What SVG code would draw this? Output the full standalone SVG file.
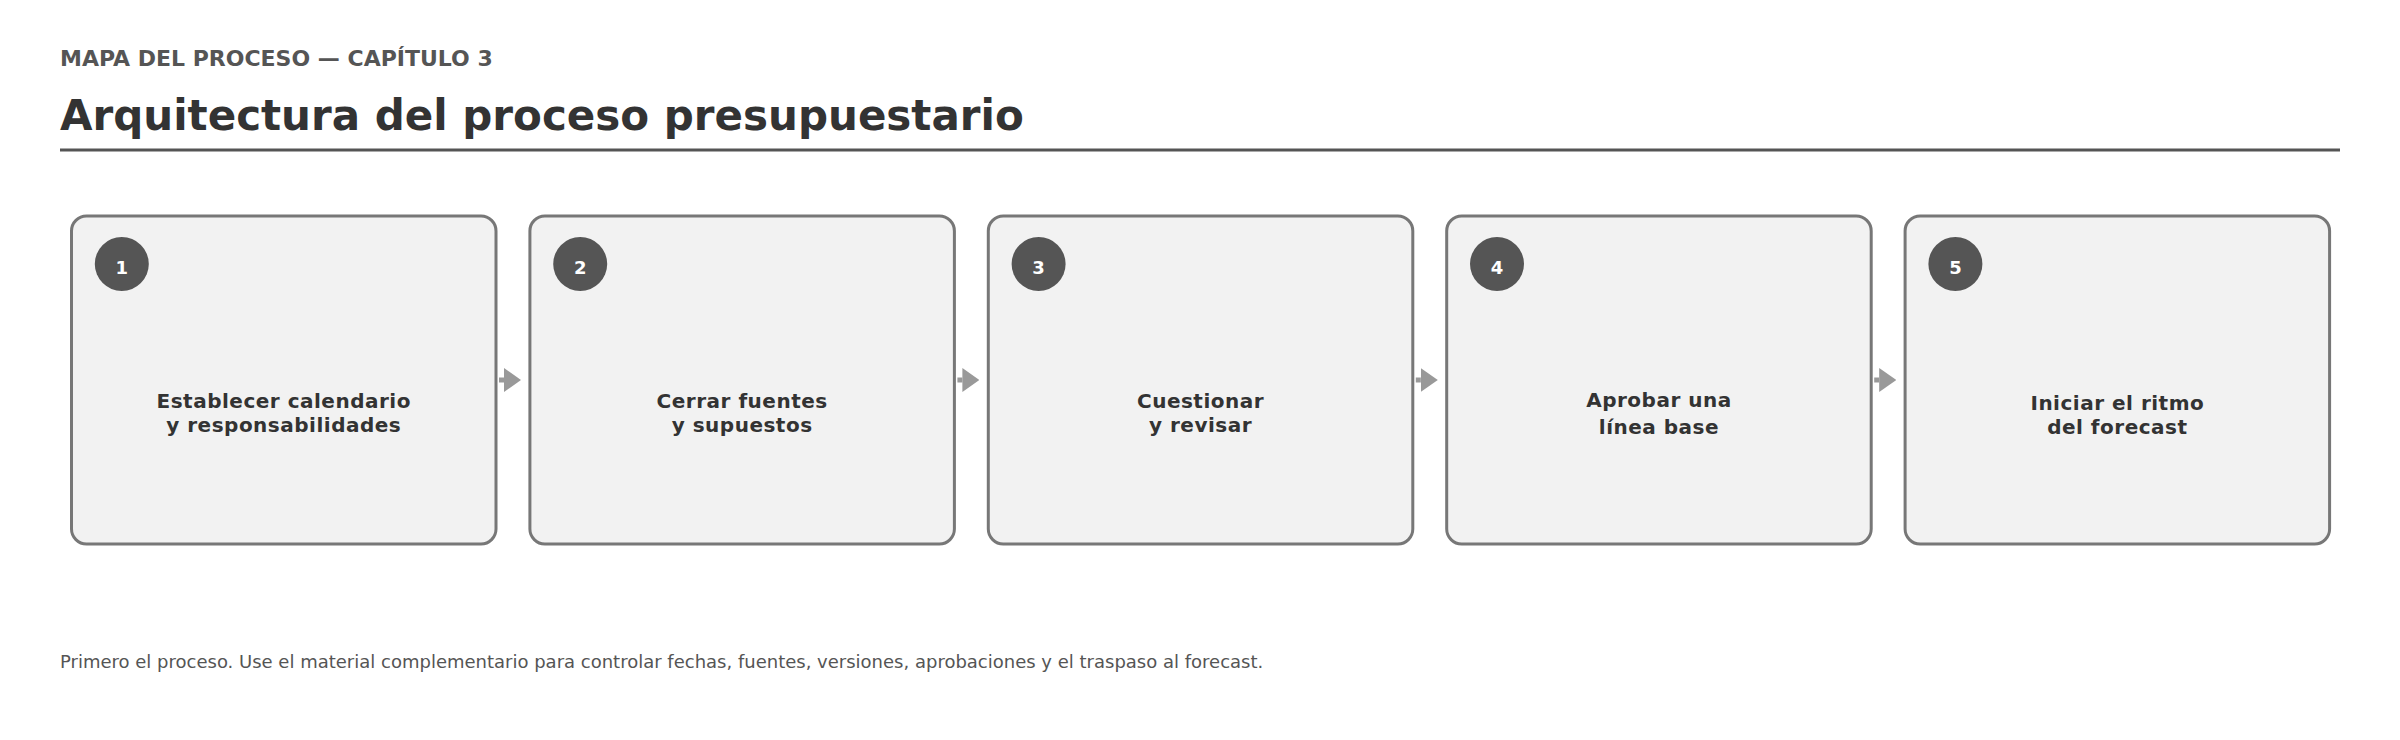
<svg xmlns="http://www.w3.org/2000/svg" width="2400" height="740" viewBox="0 0 2400 740">
  <style>
    .kicker { font-family: "DejaVu Sans", "Liberation Sans", sans-serif; font-size: 22px; font-weight: bold; fill: #555555; }
    .title { font-family: "DejaVu Sans", "Liberation Sans", sans-serif; font-size: 42px; font-weight: bold; fill: #333333; }
    .rule { stroke: #555555; stroke-width: 3; }
    .box { fill: #f2f2f2; stroke: #777777; stroke-width: 3; }
    .badge { fill: #555555; }
    .num { font-family: "DejaVu Sans", "Liberation Sans", sans-serif; font-size: 18px; font-weight: bold; fill: #ffffff; text-anchor: middle; }
    .label { font-family: "DejaVu Sans", "Liberation Sans", sans-serif; font-size: 20px; font-weight: bold; fill: #333333; text-anchor: middle; letter-spacing: 0.5px; }
    .conn { stroke: #999999; stroke-width: 5; fill: none; }
    .foot { font-family: "DejaVu Sans", "Liberation Sans", sans-serif; font-size: 18px; fill: #555555; }
  </style>
  <defs>
    <marker id="head" markerUnits="userSpaceOnUse" markerWidth="17" markerHeight="24" refX="0" refY="12" orient="auto" viewBox="0 0 17 24">
      <path d="M0,0 L17,12 L0,24 Z" fill="#999999"/>
    </marker>
  </defs>
  <rect width="2400" height="740" fill="#ffffff"/>

  <g id="header">
    <text class="kicker" x="60" y="66">MAPA DEL PROCESO — CAPÍTULO 3</text>
    <text class="title" x="60" y="130">Arquitectura del proceso presupuestario</text>
    <line class="rule" x1="60" y1="150" x2="2340" y2="150"/>
  </g>

  <g id="connectors">
    <line class="conn" x1="499" y1="380" x2="504" y2="380" marker-end="url(#head)"/>
    <line class="conn" x1="957.4" y1="380" x2="962.4" y2="380" marker-end="url(#head)"/>
    <line class="conn" x1="1415.8" y1="380" x2="1420.8" y2="380" marker-end="url(#head)"/>
    <line class="conn" x1="1874.2" y1="380" x2="1879.2" y2="380" marker-end="url(#head)"/>
  </g>

  <g id="node1">
    <rect class="box" x="71.5" y="216" width="424.5" height="328" rx="15" ry="15"/>
    <circle class="badge" cx="121.8" cy="264" r="27"/>
    <text class="num" x="121.8" y="274">1</text>
    <text class="label" x="283.75" y="408">Establecer calendario</text>
    <text class="label" x="283.75" y="431.5">y responsabilidades</text>
  </g>

  <g id="node2">
    <rect class="box" x="529.9" y="216" width="424.5" height="328" rx="15" ry="15"/>
    <circle class="badge" cx="580.2" cy="264" r="27"/>
    <text class="num" x="580.2" y="274">2</text>
    <text class="label" x="742.15" y="407.5">Cerrar fuentes</text>
    <text class="label" x="742.15" y="431.5">y supuestos</text>
  </g>

  <g id="node3">
    <rect class="box" x="988.3" y="216" width="424.5" height="328" rx="15" ry="15"/>
    <circle class="badge" cx="1038.6" cy="264" r="27"/>
    <text class="num" x="1038.6" y="274">3</text>
    <text class="label" x="1200.55" y="408">Cuestionar</text>
    <text class="label" x="1200.55" y="431.5">y revisar</text>
  </g>

  <g id="node4">
    <rect class="box" x="1446.7" y="216" width="424.5" height="328" rx="15" ry="15"/>
    <circle class="badge" cx="1497" cy="264" r="27"/>
    <text class="num" x="1497" y="274">4</text>
    <text class="label" x="1658.95" y="407">Aprobar una</text>
    <text class="label" x="1658.95" y="433.5">línea base</text>
  </g>

  <g id="node5">
    <rect class="box" x="1905.1" y="216" width="424.5" height="328" rx="15" ry="15"/>
    <circle class="badge" cx="1955.4" cy="264" r="27"/>
    <text class="num" x="1955.4" y="274">5</text>
    <text class="label" x="2117.35" y="409.5">Iniciar el ritmo</text>
    <text class="label" x="2117.35" y="434">del forecast</text>
  </g>

  <g id="footer">
    <text class="foot" x="60" y="668">Primero el proceso. Use el material complementario para controlar fechas, fuentes, versiones, aprobaciones y el traspaso al forecast.</text>
  </g>
</svg>
